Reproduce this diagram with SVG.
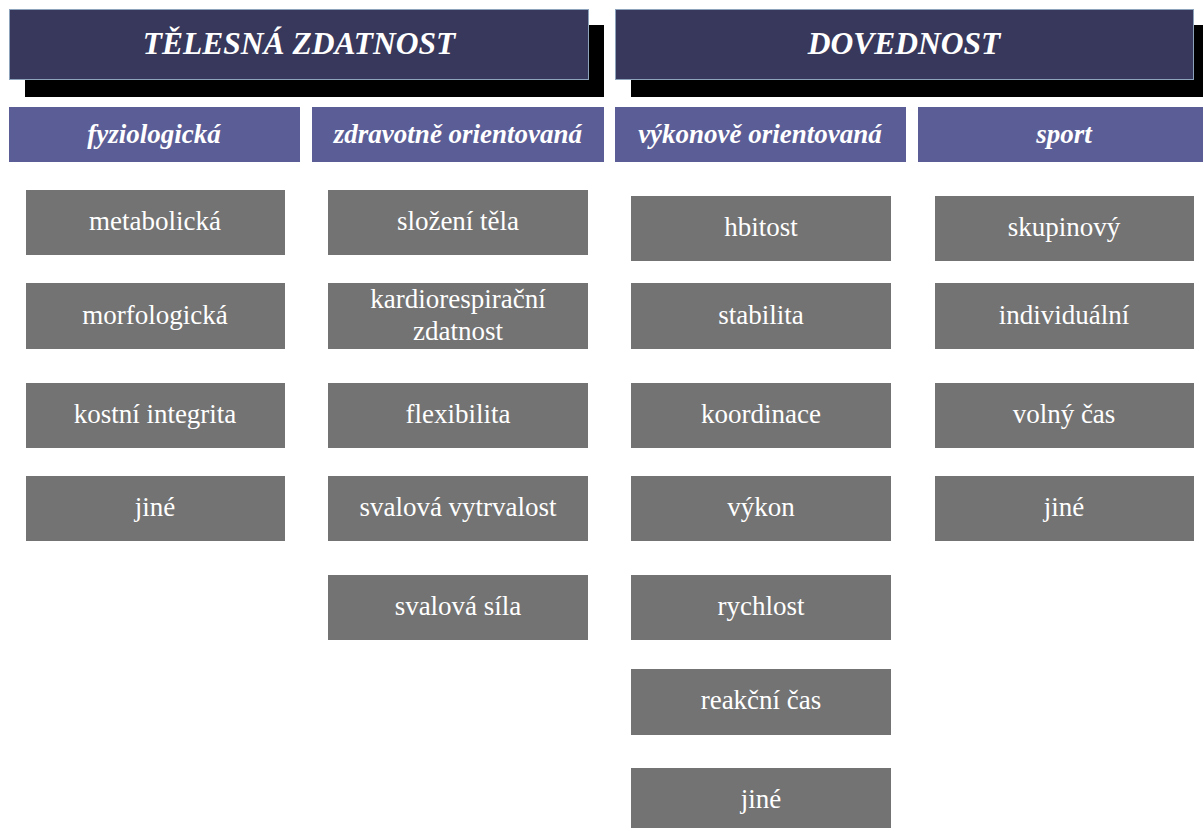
<svg xmlns="http://www.w3.org/2000/svg" width="1203" height="828" viewBox="0 0 1203 828">
<style>
.shadow{fill:#000}
.hdr{fill:#37385b;stroke:#8da3bb;stroke-width:1}
.sub{fill:#5b5d96}
.box{fill:#737373}
.t{font-family:"Liberation Serif","Times New Roman",serif;fill:#fff;text-anchor:middle;dominant-baseline:central}
.th{font-size:31.5px;font-weight:bold;font-style:italic}
.ts{font-size:27px;font-weight:bold;font-style:italic}
.tb{font-size:27px}
</style>
<rect width="1203" height="828" fill="#fff"/>
<g id="n-telesna">
<rect class="shadow" x="25" y="25" width="579" height="72"/>
<rect class="hdr" x="9.5" y="9.5" width="579" height="70"/>
<text class="t th" x="299" y="43">TĚLESNÁ ZDATNOST</text>
</g>
<g id="n-dovednost">
<rect class="shadow" x="631" y="25" width="572" height="72"/>
<rect class="hdr" x="615.5" y="9.5" width="578" height="70"/>
<text class="t th" x="904" y="43">DOVEDNOST</text>
</g>
<g id="n-fyziologicka"><rect class="sub" x="9" y="107" width="291" height="55"/><text class="t ts" x="154" y="134">fyziologická</text></g>
<g id="n-zdravotne"><rect class="sub" x="312" y="107" width="292" height="55"/><text class="t ts" x="458" y="134">zdravotně orientovaná</text></g>
<g id="n-vykonove"><rect class="sub" x="615" y="107" width="291" height="55"/><text class="t ts" x="760" y="134">výkonově orientovaná</text></g>
<g id="n-sport"><rect class="sub" x="918" y="107" width="285" height="55"/><text class="t ts" x="1064" y="134">sport</text></g>

<g id="n-metabolicka"><rect class="box" x="26" y="190" width="259" height="65"/><text class="t tb" x="155" y="221">metabolická</text></g>
<g id="n-morfologicka"><rect class="box" x="26" y="283" width="259" height="66"/><text class="t tb" x="155" y="315">morfologická</text></g>
<g id="n-kostni"><rect class="box" x="26" y="383" width="259" height="65"/><text class="t tb" x="155" y="414">kostní integrita</text></g>
<g id="n-jine1"><rect class="box" x="26" y="476" width="259" height="65"/><text class="t tb" x="155" y="507">jiné</text></g>

<g id="n-slozeni"><rect class="box" x="328" y="190" width="260" height="65"/><text class="t tb" x="458" y="221">složení těla</text></g>
<g id="n-kardio"><rect class="box" x="328" y="283" width="260" height="66"/><text class="t tb" x="458" y="299">kardiorespirační</text><text class="t tb" x="458" y="331">zdatnost</text></g>
<g id="n-flexibilita"><rect class="box" x="328" y="383" width="260" height="65"/><text class="t tb" x="458" y="414">flexibilita</text></g>
<g id="n-vytrvalost"><rect class="box" x="328" y="476" width="260" height="65"/><text class="t tb" x="458" y="507">svalová vytrvalost</text></g>
<g id="n-sila"><rect class="box" x="328" y="575" width="260" height="65"/><text class="t tb" x="458" y="606">svalová síla</text></g>

<g id="n-hbitost"><rect class="box" x="631" y="196" width="260" height="65"/><text class="t tb" x="761" y="227">hbitost</text></g>
<g id="n-stabilita"><rect class="box" x="631" y="283" width="260" height="66"/><text class="t tb" x="761" y="315">stabilita</text></g>
<g id="n-koordinace"><rect class="box" x="631" y="383" width="260" height="65"/><text class="t tb" x="761" y="414">koordinace</text></g>
<g id="n-vykon"><rect class="box" x="631" y="476" width="260" height="65"/><text class="t tb" x="761" y="507">výkon</text></g>
<g id="n-rychlost"><rect class="box" x="631" y="575" width="260" height="65"/><text class="t tb" x="761" y="606">rychlost</text></g>
<g id="n-reakcni"><rect class="box" x="631" y="669" width="260" height="66"/><text class="t tb" x="761" y="700">reakční čas</text></g>
<g id="n-jine3"><rect class="box" x="631" y="768" width="260" height="60"/><text class="t tb" x="761" y="799">jiné</text></g>

<g id="n-skupinovy"><rect class="box" x="935" y="196" width="259" height="65"/><text class="t tb" x="1064" y="227">skupinový</text></g>
<g id="n-individualni"><rect class="box" x="935" y="283" width="259" height="66"/><text class="t tb" x="1064" y="315">individuální</text></g>
<g id="n-volny"><rect class="box" x="935" y="383" width="259" height="65"/><text class="t tb" x="1064" y="414">volný čas</text></g>
<g id="n-jine4"><rect class="box" x="935" y="476" width="259" height="65"/><text class="t tb" x="1064" y="507">jiné</text></g>
<g id="connectors"/>
</svg>
